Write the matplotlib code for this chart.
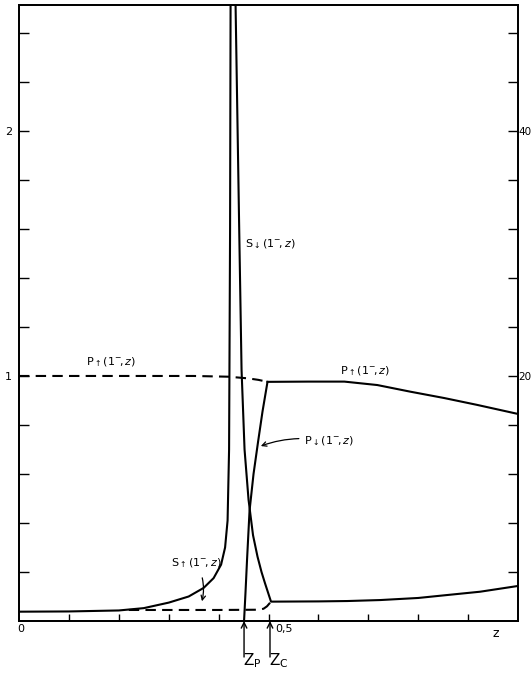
import numpy as np
import matplotlib
matplotlib.use('Agg')
import matplotlib.pyplot as plt

plt.rcParams['font.family'] = 'DejaVu Sans'
plt.rcParams['mathtext.fontset'] = 'dejavusans'

# P curves (left scale)
p_dash_z = [0.0, 0.2, 0.35, 0.42, 0.46, 0.48, 0.498]
p_dash_v = [1.0, 1.0, 1.0, 0.997, 0.99, 0.984, 0.976]

p_up_z = [0.498, 0.58, 0.652, 0.718, 0.784, 0.852, 0.918, 1.0]
p_up_v = [0.976, 0.977, 0.977, 0.963, 0.936, 0.910, 0.882, 0.845]

p_low_z = [0.451, 0.454, 0.457, 0.462, 0.470, 0.479, 0.488, 0.498]
p_low_v = [0.0, 0.12, 0.25, 0.45, 0.60, 0.73, 0.855, 0.976]

# S curves (right scale)
s_left_z = [0.0, 0.1, 0.2, 0.25, 0.3, 0.34, 0.37, 0.39, 0.405, 0.413, 0.418, 0.421, 0.423, 0.424]
s_left_v = [0.76, 0.78, 0.86, 1.05, 1.5, 2.0, 2.7, 3.5, 4.6, 6.0, 8.2, 14, 32, 50.3]

s_right_z = [0.434, 0.441, 0.446, 0.452, 0.460, 0.469, 0.478, 0.486, 0.493, 0.505,
             0.6, 0.658, 0.724, 0.8, 0.858, 0.924, 1.0]
s_right_v = [50.3, 32.7, 20.5, 14.0, 9.9, 7.0, 5.25, 4.0, 3.08, 1.58,
             1.6, 1.63, 1.71, 1.88, 2.12, 2.39, 2.86]

s_dash_z = [0.22, 0.3, 0.4, 0.48, 0.49, 0.497, 0.505]
s_dash_v = [0.9, 0.9, 0.9, 0.92, 1.0, 1.2, 1.58]

z_p = 0.451
z_c = 0.503

fig = plt.figure(figsize=(5.31, 6.77), dpi=100)
ax = fig.add_axes([19/531, 56/677, 499/531, 616/677])
ax.set_xlim(0, 1)
ax.set_ylim(0, 2.514)
ax2 = ax.twinx()
ax2.set_ylim(0, 50.28)

for a in (ax, ax2):
    for sp in a.spines.values():
        sp.set_linewidth(1.3)

lw = 1.5
dash = (0, (5, 3))
ax.plot(p_dash_z, p_dash_v, color='k', lw=lw, linestyle=dash)
ax.plot(p_up_z, p_up_v, color='k', lw=lw)
ax.plot(p_low_z, p_low_v, color='k', lw=lw, clip_on=False)
ax2.plot(s_left_z, s_left_v, color='k', lw=lw)
ax2.plot(s_right_z, s_right_v, color='k', lw=lw)
ax2.plot(s_dash_z, s_dash_v, color='k', lw=lw, linestyle=dash)

# ticks
yt = np.round(np.arange(0.2, 2.5, 0.2), 1)
ax.set_yticks(yt)
ax.set_yticklabels(['1' if v == 1.0 else '2' if v == 2.0 else '' for v in yt])
ax.tick_params(axis='y', direction='in', length=7, width=1, labelsize=8, pad=5)
xt = np.round(np.arange(0.1, 1.0, 0.1), 1)
ax.set_xticks(xt)
ax.set_xticklabels([])
ax.tick_params(axis='x', direction='in', length=5, width=1)
rt = np.arange(4, 50, 4)
ax2.set_yticks(rt)
ax2.set_yticklabels(['20' if v == 20 else '40' if v == 40 else '' for v in rt])
ax2.tick_params(axis='y', direction='in', length=7, width=1, labelsize=7.5, pad=0.5)

# axis texts
ax.text(0.004, -0.012, '0', ha='center', va='top', fontsize=8)
ax.text(0.514, -0.012, '0,5', ha='left', va='top', fontsize=8)
ax.text(0.955, -0.025, 'z', ha='center', va='top', fontsize=9)

for zz, lab in ((z_p, r'$\mathrm{Z}_\mathrm{P}$'), (z_c, r'$\mathrm{Z}_\mathrm{C}$')):
    ax.annotate('', xy=(zz, 0), xytext=(zz, -0.147),
                arrowprops=dict(arrowstyle='->', lw=1, color='k', shrinkA=0, shrinkB=0),
                annotation_clip=False)
    ax.text(zz - 0.002, -0.125, lab, ha='left', va='top', fontsize=11)

# curve labels
fs = 8
ax.text(0.134, 1.057, r'$\mathrm{P}_{\uparrow}(1^{-}\!,z)$', ha='left', va='center', fontsize=fs)
ax.text(0.453, 1.535, r'$\mathrm{S}_{\downarrow}(1^{-}\!,z)$', ha='left', va='center', fontsize=fs)
ax.text(0.643, 1.018, r'$\mathrm{P}_{\uparrow}(1^{-}\!,z)$', ha='left', va='center', fontsize=fs)
ax.annotate(r'$\mathrm{P}_{\downarrow}(1^{-}\!,z)$', xy=(0.482, 0.712), xytext=(0.572, 0.732),
            ha='left', va='center', fontsize=fs,
            arrowprops=dict(arrowstyle='->', lw=0.9, color='k', shrinkA=2, shrinkB=1,
                            connectionstyle='arc3,rad=0.15'))
ax.annotate(r'$\mathrm{S}_{\uparrow}(1^{-}\!,z)$', xy=(0.366, 0.075), xytext=(0.305, 0.237),
            ha='left', va='center', fontsize=fs,
            arrowprops=dict(arrowstyle='->', lw=0.9, color='k', shrinkA=4, shrinkB=1,
                            connectionstyle='arc3,rad=-0.2'))

fig.savefig('out.png', dpi=100)
